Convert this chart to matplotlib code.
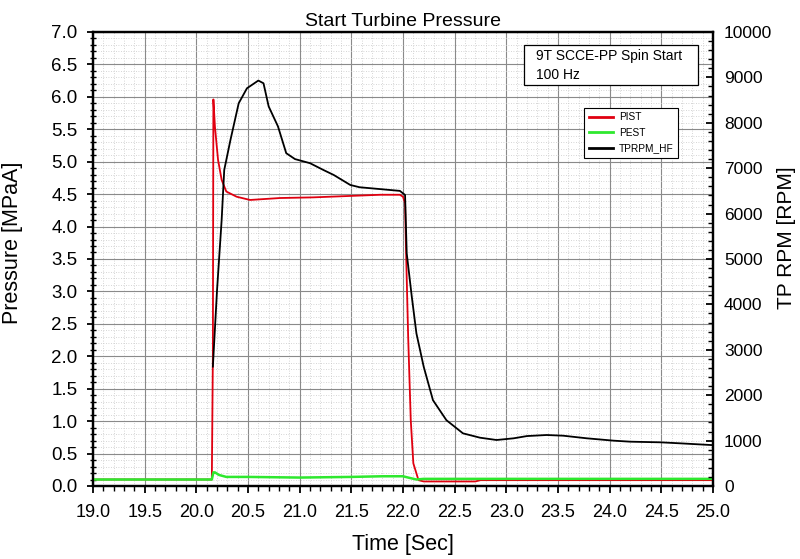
import matplotlib
matplotlib.use("Agg")
import matplotlib.pyplot as plt
from matplotlib.patches import Rectangle
from matplotlib.ticker import MultipleLocator, FormatStrFormatter

plt.rcParams['font.family'] = ['Liberation Sans', 'DejaVu Sans']

# ---- data ----
t_pist = [19.0, 20.15, 20.16, 20.165, 20.18, 20.21, 20.245, 20.29, 20.39, 20.52,
          20.81, 21.13, 21.455, 21.78, 21.97, 22.0, 22.02, 22.03, 22.05, 22.075,
          22.10, 22.15, 22.2, 22.7, 22.75, 25.0]
p_pist = [0.10, 0.10, 2.0, 5.96, 5.54, 5.03, 4.72, 4.54, 4.46, 4.41,
          4.44, 4.45, 4.47, 4.49, 4.49, 4.46, 4.36, 3.59, 2.30, 1.02,
          0.35, 0.09, 0.07, 0.07, 0.09, 0.09]

t_pest = [19.0, 20.15, 20.165, 20.18, 20.22, 20.29, 20.5, 21.0, 21.5, 21.8,
          22.0, 22.05, 22.13, 22.2, 25.0]
p_pest = [0.10, 0.10, 0.21, 0.21, 0.17, 0.14, 0.14, 0.13, 0.14, 0.15,
          0.15, 0.13, 0.10, 0.11, 0.11]

t_rpm = [20.16, 20.2, 20.245, 20.27, 20.33, 20.41, 20.49, 20.60, 20.65, 20.70,
         20.79, 20.87, 20.955, 21.10, 21.23, 21.33, 21.49, 21.58, 21.97, 22.02,
         22.036, 22.085, 22.13, 22.20, 22.29, 22.42, 22.58, 22.745, 22.905, 23.07,
         23.20, 23.39, 23.55, 23.78, 24.04, 24.20, 24.49, 24.68, 25.0]
rpm = [2630, 4300, 5860, 6960, 7620, 8430, 8760, 8930, 8870, 8360,
       7920, 7330, 7200, 7110, 6960, 6850, 6630, 6580, 6500, 6410,
       5125, 4170, 3360, 2630, 1890, 1450, 1160, 1064, 1013, 1050,
       1100, 1123, 1108, 1050, 998, 976, 962, 940, 900]

x_ticks = [19.0, 19.5, 20.0, 20.5, 21.0, 21.5, 22.0, 22.5, 23.0, 23.5, 24.0, 24.5, 25.0]
title = "Start Turbine Pressure"
note_lines = ["9T SCCE-PP Spin Start", "100 Hz"]

# ---- figure ----
fig = plt.figure(figsize=(8, 5.59), dpi=100)
ax = fig.add_axes([0.11625, 0.1306, 0.775, 0.8122])
ax2 = ax.twinx()

l1, = ax.plot(t_pist, p_pist, color='#e00010', lw=1.3, label='PIST', zorder=3)
l2, = ax.plot(t_pest, p_pest, color='#2ee82e', lw=1.8, label='PEST', zorder=4)
l3, = ax2.plot(t_rpm, rpm, color='black', lw=1.3, label='TPRPM_HF', zorder=3)

ax.set_xlim(19.0, 25.0)
ax.set_ylim(0.0, 7.0)
ax2.set_ylim(0, 10000)

ax.set_xticks(x_ticks)
ax.xaxis.set_major_formatter(FormatStrFormatter('%.1f'))
ax.xaxis.set_minor_locator(MultipleLocator(0.1))
ax.yaxis.set_major_locator(MultipleLocator(0.5))
ax.yaxis.set_major_formatter(FormatStrFormatter('%.1f'))
ax.yaxis.set_minor_locator(MultipleLocator(0.1))
ax2.yaxis.set_major_locator(MultipleLocator(1000))
ax2.yaxis.set_minor_locator(MultipleLocator(200))

ax.grid(which='major', color='#8a8a8a', lw=0.8, ls='-')
ax.grid(which='minor', color='#c8c8c8', lw=0.6, ls=(0, (1, 2)))
ax.set_axisbelow(True)

for a in (ax, ax2):
    for s in a.spines.values():
        s.set_linewidth(1.6)

ax.tick_params(axis='x', which='major', direction='out', length=5, width=1.3,
               labelsize=13, pad=8)
ax.tick_params(axis='x', which='minor', direction='out', length=3.5, width=1.0)
ax.tick_params(axis='y', which='major', direction='out', length=4.5, width=1.3,
               labelsize=13.5, pad=6.5)
ax.tick_params(axis='y', which='minor', direction='inout', length=5, width=1.0)
ax2.tick_params(axis='y', which='major', direction='in', length=5, width=1.3,
                labelsize=12.5, pad=8)
ax2.tick_params(axis='y', which='minor', direction='in', length=3.5, width=1.0)

ax.set_title(title, fontsize=14, pad=4)
ax.set_xlabel("Time [Sec]", fontsize=15.5, labelpad=9)
ax.set_ylabel("Pressure [MPaA]", fontsize=15.5)
ax2.set_ylabel("TP RPM [RPM]", fontsize=15)
ax.yaxis.set_label_coords(-0.113, 0.535)
ax2.yaxis.set_label_coords(1.103, 0.548)

# annotation box
ax2.add_patch(Rectangle((0.695, 0.883), 0.281, 0.088, transform=ax2.transAxes,
                        facecolor='white', edgecolor='black', lw=0.9, zorder=9))
ax2.text(0.7145, 0.946, note_lines[0], transform=ax2.transAxes, fontsize=10,
         va='center', ha='left', zorder=10)
ax2.text(0.7145, 0.906, note_lines[1], transform=ax2.transAxes, fontsize=10,
         va='center', ha='left', zorder=10)

leg = ax2.legend(handles=[l1, l2, l3], loc='upper left',
                 bbox_to_anchor=(0.792, 0.833), borderaxespad=0,
                 fontsize=7.3, fancybox=False, framealpha=1, edgecolor='black',
                 handlelength=2.4, handletextpad=0.6, labelspacing=0.55,
                 borderpad=0.45)
leg.get_frame().set_linewidth(0.8)
for h in leg.get_lines():
    h.set_linewidth(2.0)
leg.set_zorder(10)

fig.savefig("out.png", dpi=100)
